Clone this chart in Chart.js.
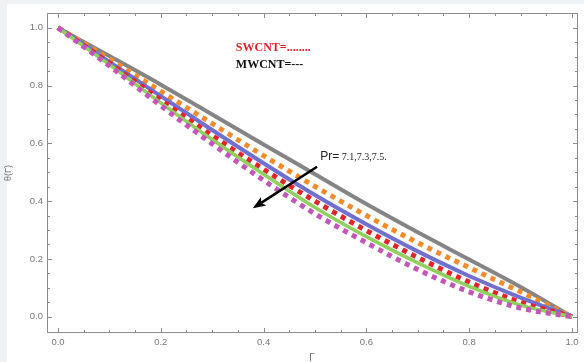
<!DOCTYPE html>
<html>
<head>
<meta charset="utf-8">
<script src="https://cdn.jsdelivr.net/npm/chart.js@4.4.0/dist/chart.umd.min.js"></script>
<style>
html, body { margin: 0; padding: 0; background: #eef2f5; }
#wrap { width: 584px; height: 362px; }
</style>
</head>
<body>
<div id="wrap"><canvas id="chTheta" width="584" height="362"></canvas></div>
<script>
/* Data: theta(r) for Pr = 7.1, 7.3, 7.5 */
const rVals = [0, 0.1, 0.2, 0.3, 0.4, 0.5, 0.6, 0.7, 0.8, 0.9, 1.0];
const grayVals    = [1.0, 0.902, 0.803, 0.700, 0.596, 0.493, 0.390, 0.292, 0.198, 0.103, 0.0];
const orangeVals  = [1.0, 0.892, 0.780, 0.668, 0.557, 0.451, 0.350, 0.256, 0.170, 0.086, 0.0];
const blueVals    = [1.0, 0.882, 0.763, 0.646, 0.531, 0.421, 0.320, 0.226, 0.141, 0.066, 0.0];
const redVals     = [1.0, 0.877, 0.750, 0.627, 0.510, 0.400, 0.298, 0.205, 0.120, 0.050, 0.0];
const greenVals   = [1.0, 0.872, 0.740, 0.613, 0.493, 0.378, 0.277, 0.186, 0.105, 0.040, 0.0];
const magentaVals = [1.0, 0.868, 0.730, 0.598, 0.472, 0.356, 0.256, 0.163, 0.086, 0.030, 0.0];

// tick marks (every 0.05), labels on the 0.2 steps
const xTickVals = [0, 0.05, 0.1, 0.15, 0.2, 0.25, 0.3, 0.35, 0.4, 0.45, 0.5,
                   0.55, 0.6, 0.65, 0.7, 0.75, 0.8, 0.85, 0.9, 0.95, 1.0];
const yTickVals = [0, 0.05, 0.1, 0.15, 0.2, 0.25, 0.3, 0.35, 0.4, 0.45, 0.5,
                   0.55, 0.6, 0.65, 0.7, 0.75, 0.8, 0.85, 0.9, 0.95, 1.0];
const majorTicks = [0, 0.2, 0.4, 0.6, 0.8, 1.0];

// annotation anchors in data units
const swcntPos = [0.346, 0.919];
const mwcntPos = [0.346, 0.862];
const prPos = [0.510, 0.542];
const arrowFrom = [0.504, 0.519];
const arrowTo = [0.379, 0.375];

function toPoints(ys) {
    return rVals.map((r, i) => ({ x: r, y: ys[i] }));
}

function isMajor(v) {
    return Math.abs(v * 5 - Math.round(v * 5)) < 1e-6;
}

const decorPlugin = {
    id: 'decor',
    beforeDraw(chart) {
        const c = chart.ctx;
        c.save();
        c.fillStyle = '#eef2f5';
        c.fillRect(0, 0, chart.width, chart.height);
        c.fillStyle = '#ffffff';
        c.fillRect(7, 4, chart.width - 7, chart.height - 4);
        c.restore();
    },
    beforeDatasetsDraw(chart) {
        const c = chart.ctx, a = chart.chartArea;
        const xs = chart.scales.x, ys = chart.scales.y;
        c.save();
        c.strokeStyle = '#8c8c8c';
        c.lineWidth = 1;
        c.strokeRect(a.left + 0.5, a.top + 0.5, a.right - a.left - 1, a.bottom - a.top - 1);
        c.beginPath();
        xTickVals.forEach(v => {
            const len = isMajor(v) ? 5 : 3;
            const px = Math.round(xs.getPixelForValue(v)) + 0.5;
            c.moveTo(px, a.bottom); c.lineTo(px, a.bottom - len);
            c.moveTo(px, a.top); c.lineTo(px, a.top + len);
        });
        yTickVals.forEach(v => {
            const len = isMajor(v) ? 5 : 3;
            const py = Math.round(ys.getPixelForValue(v)) + 0.5;
            c.moveTo(a.left, py); c.lineTo(a.left + len, py);
            c.moveTo(a.right, py); c.lineTo(a.right - len, py);
        });
        c.stroke();
        c.restore();
    },
    afterDraw(chart) {
        const c = chart.ctx;
        const xs = chart.scales.x, ys = chart.scales.y;
        const px = v => xs.getPixelForValue(v);
        const py = v => ys.getPixelForValue(v);
        c.save();
        // axis titles
        c.fillStyle = '#6a6a6a';
        c.font = '10px "Liberation Sans", Arial, sans-serif';
        c.textAlign = 'center';
        c.textBaseline = 'alphabetic';
        c.fillText('Γ', 312, 361);
        c.save();
        c.translate(11, 173);
        c.rotate(-Math.PI / 2);
        c.font = '9px "Liberation Sans", Arial, sans-serif';
        c.fillText('θ(Γ)', 0, 0);
        c.restore();

        // legend-ish notes
        c.textAlign = 'left';
        c.font = 'bold 12px "Liberation Serif", "Times New Roman", serif';
        c.fillStyle = '#e0232b';
        c.fillText('SWCNT=........', px(swcntPos[0]), py(swcntPos[1]));
        c.fillStyle = '#111111';
        c.fillText('MWCNT=---', px(mwcntPos[0]), py(mwcntPos[1]));

        c.fillStyle = '#222222';
        c.font = '12px "Liberation Sans", Arial, sans-serif';
        c.fillText('Pr=', px(prPos[0]), py(prPos[1]));
        const w = c.measureText('Pr=').width;
        c.font = '10px "Liberation Serif", "Times New Roman", serif';
        c.fillText(' 7.1,7.3,7.5.', px(prPos[0]) + w, py(prPos[1]));

        // arrow
        const x0 = px(arrowFrom[0]), y0 = py(arrowFrom[1]);
        const x1 = px(arrowTo[0]), y1 = py(arrowTo[1]);
        const ang = Math.atan2(y1 - y0, x1 - x0);
        const headLen = 13, headW = 5;
        const bx = x1 - headLen * Math.cos(ang), by = y1 - headLen * Math.sin(ang);
        c.strokeStyle = '#000000';
        c.lineWidth = 2.5;
        c.beginPath();
        c.moveTo(x0, y0);
        c.lineTo(bx + 3 * Math.cos(ang), by + 3 * Math.sin(ang));
        c.stroke();
        c.fillStyle = '#000000';
        c.beginPath();
        c.moveTo(x1, y1);
        c.lineTo(bx + headW * Math.sin(ang), by - headW * Math.cos(ang));
        c.lineTo(bx + 3 * Math.cos(ang), by + 3 * Math.sin(ang));
        c.lineTo(bx - headW * Math.sin(ang), by + headW * Math.cos(ang));
        c.closePath();
        c.fill();
        c.restore();
    }
};

function makeSet(label, ys, color, width, dotted) {
    return {
        label: label,
        data: toPoints(ys),
        borderColor: color,
        backgroundColor: color,
        borderWidth: width,
        borderDash: dotted ? [5, 5] : [],
        borderCapStyle: 'butt',
        pointRadius: 0,
        fill: false,
        cubicInterpolationMode: 'monotone'
    };
}

const chTheta = new Chart(document.getElementById('chTheta'), {
    type: 'line',
    data: {
        datasets: [
            makeSet('SWCNT Pr=7.5', magentaVals, '#c455b9', 5, true),
            makeSet('MWCNT Pr=7.5', greenVals, '#8fd05e', 3.5, false),
            makeSet('SWCNT Pr=7.3', redVals, '#e4232c', 5, true),
            makeSet('MWCNT Pr=7.3', blueVals, '#7071cf', 4, false),
            makeSet('SWCNT Pr=7.1', orangeVals, '#f38b2a', 5, true),
            makeSet('MWCNT Pr=7.1', grayVals, '#858585', 4, false)
        ]
    },
    options: {
        responsive: false,
        animation: false,
        layout: { padding: { left: 0, top: 13, right: 6, bottom: 4 } },
        plugins: {
            legend: { display: false },
            tooltip: { enabled: false }
        },
        scales: {
            x: {
                type: 'linear',
                min: -0.0214,
                max: 1.0117,
                grid: { display: false, drawTicks: false },
                border: { display: false },
                afterBuildTicks: axis => { axis.ticks = majorTicks.map(v => ({ value: v })); },
                afterFit: axis => { axis.height = 25; },
                ticks: {
                    padding: 4,
                    color: '#777777',
                    font: { family: '"Liberation Sans", Arial, sans-serif', size: 9.5 },
                    maxRotation: 0,
                    callback: v => v.toFixed(1)
                }
            },
            y: {
                type: 'linear',
                min: -0.0564,
                max: 1.0509,
                grid: { display: false, drawTicks: false },
                border: { display: false },
                afterBuildTicks: axis => { axis.ticks = majorTicks.map(v => ({ value: v })); },
                afterFit: axis => { axis.width = 47; },
                ticks: {
                    padding: 4,
                    color: '#777777',
                    font: { family: '"Liberation Sans", Arial, sans-serif', size: 9.5 },
                    callback: v => v.toFixed(1)
                }
            }
        }
    },
    plugins: [decorPlugin]
});
</script>
</body>
</html>
